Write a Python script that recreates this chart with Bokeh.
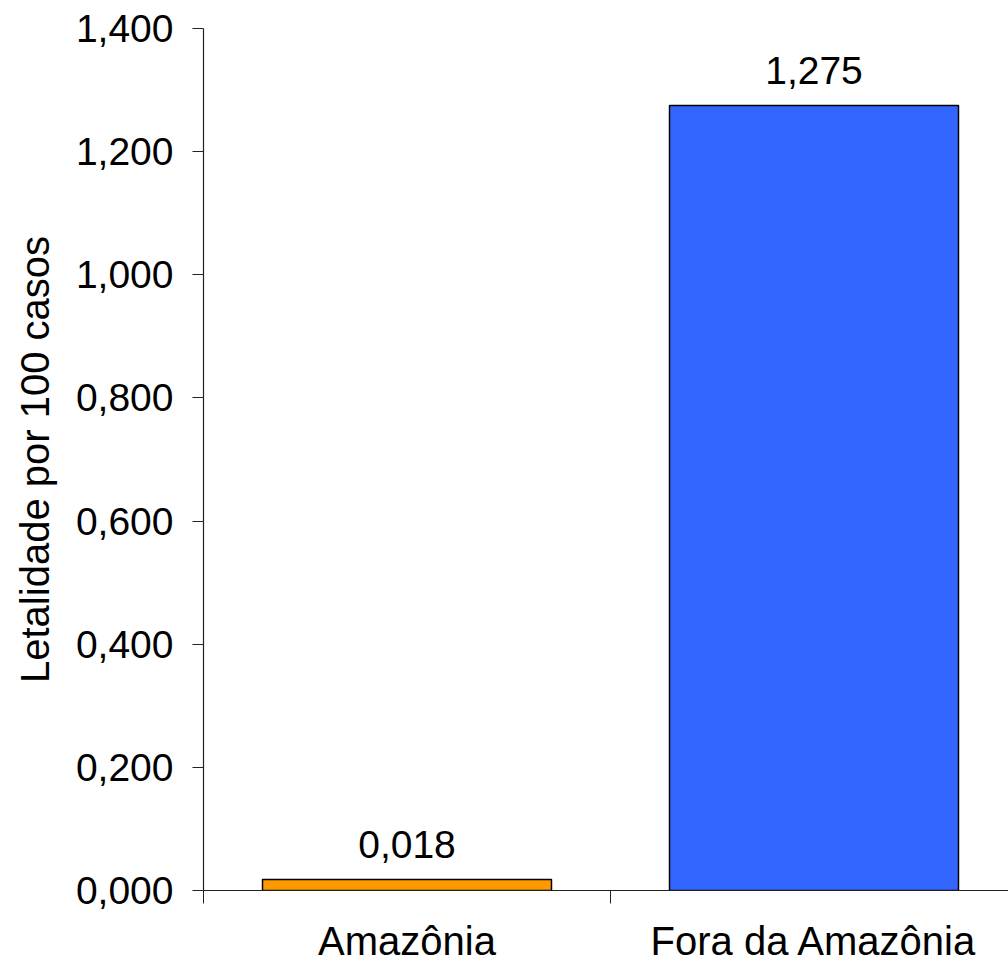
from bokeh.plotting import figure
from bokeh.models import ColumnDataSource, FixedTicker, CustomJSTickFormatter, Range1d
from bokeh.core.properties import value
from bokeh.embed import file_html
from bokeh.resources import INLINE

categories = ["Amazônia", "Fora da Amazônia"]
letalidade = [0.018, 1.275]
bar_colors = ["#FF9900", "#3366FF"]
y_ticks = [0.0, 0.2, 0.4, 0.6, 0.8, 1.0, 1.2, 1.4]
y_label = "Letalidade por 100 casos"

FONT = "Liberation Sans"

xpos = [i + 0.5 for i in range(len(categories))]
labels = [f"{v:.3f}".replace(".", ",") for v in letalidade]
src = ColumnDataSource(dict(x=xpos, top=letalidade, color=bar_colors, label=labels))

p = figure(width=1008, height=965, output_backend="svg", toolbar_location=None,
           x_range=Range1d(0, 805 / 407), y_range=Range1d(0, 1.4),
           min_border_left=203, min_border_right=0, min_border_top=28, min_border_bottom=74)

p.vbar(x="x", top="top", width=0.71, bottom=0, fill_color="color", line_color="black",
       line_width=1.5, source=src)
p.text(x="x", y="top", text="label", source=src, text_align="center", text_baseline="alphabetic",
       y_offset=-35, text_font=value(FONT), text_font_size="39px", text_color="black")

p.xgrid.visible = False
p.ygrid.visible = False
p.outline_line_color = None
p.background_fill_color = "white"
p.border_fill_color = "white"

# y axis
p.yaxis.ticker = FixedTicker(ticks=y_ticks)
p.yaxis.formatter = CustomJSTickFormatter(code="return tick.toFixed(3).replace('.', ',');")
p.yaxis.major_tick_in = 0
p.yaxis.major_tick_out = 11
p.yaxis.minor_tick_in = 0
p.yaxis.minor_tick_out = 0
p.yaxis.major_label_standoff = 19
p.yaxis.major_label_text_font_size = "39px"
p.yaxis.axis_label = y_label
p.yaxis.axis_label_standoff = 16
p.yaxis.axis_label_text_font = FONT
p.yaxis.axis_label_text_font_size = "40px"
p.yaxis.axis_label_text_font_style = "normal"
p.yaxis.axis_label_text_color = "black"

# x axis: boundary ticks, labels at category centres
p.xaxis.ticker = FixedTicker(ticks=xpos, minor_ticks=list(range(len(categories) + 1)))
p.xaxis.major_label_overrides = {x: c for x, c in zip(xpos, categories)}
p.xaxis.major_tick_in = 0
p.xaxis.major_tick_out = 0
p.xaxis.minor_tick_in = 0
p.xaxis.minor_tick_out = 13
p.xaxis.major_label_standoff = 15
p.xaxis.major_label_text_font_size = "40px"

for ax in (p.xaxis, p.yaxis):
    ax.major_label_text_font = FONT
    ax.major_label_text_color = "black"
    ax.axis_line_color = "#222222"
    ax.major_tick_line_color = "#222222"
    ax.minor_tick_line_color = "#222222"
    ax.axis_line_width = 1.2

open("out.html", "w").write(file_html(p, INLINE))
